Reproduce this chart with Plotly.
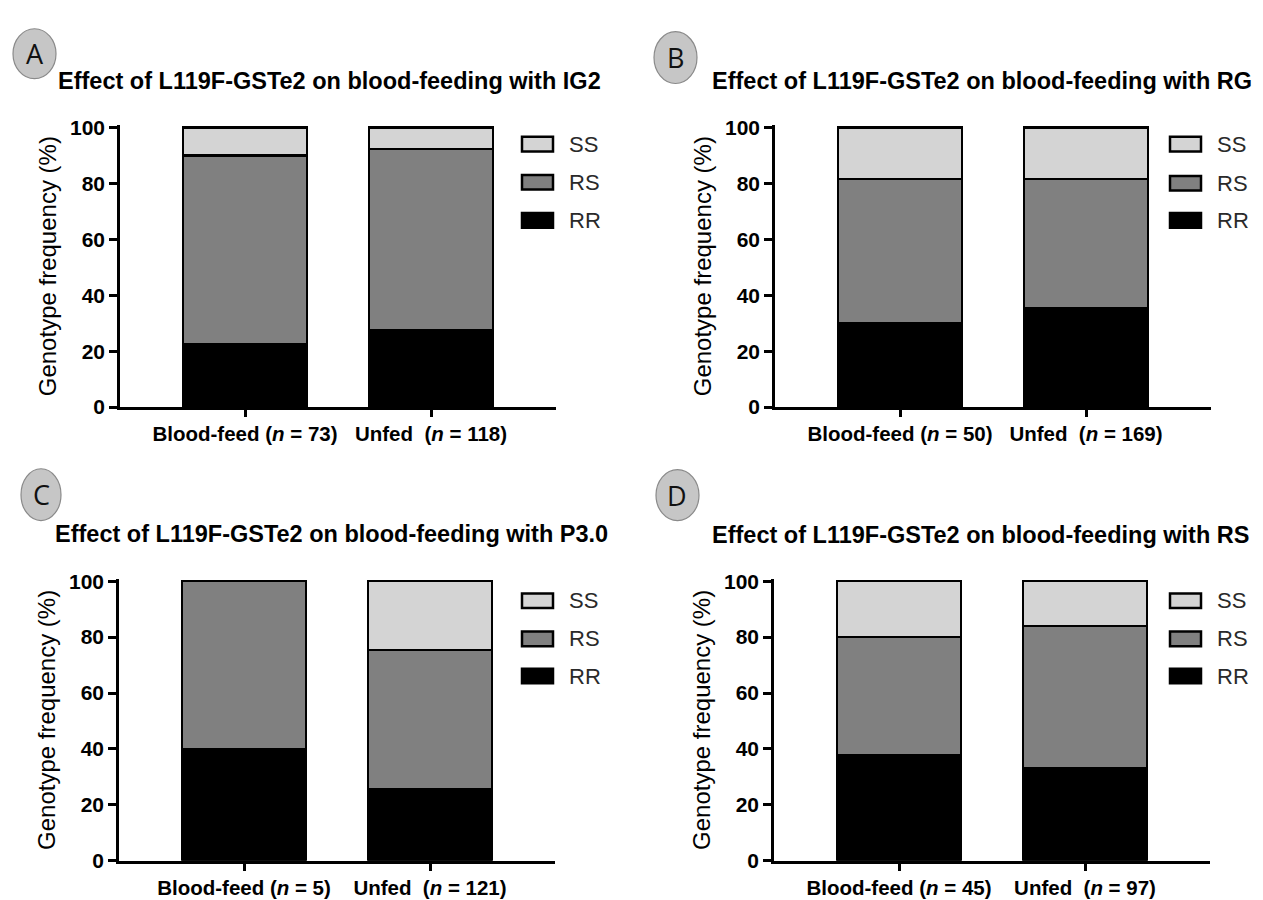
import plotly.graph_objects as go

# ---------------- data ----------------
genotypes = ["SS", "RS", "RR"]          # legend order (top to bottom)
geno_colors = {"SS": "#d4d4d4", "RS": "#808080", "RR": "#000000"}

panel_letters = ["A", "B", "C", "D"]
panel_titles = [
    "Effect of L119F-GSTe2 on blood-feeding with IG2",
    "Effect of L119F-GSTe2 on blood-feeding with RG",
    "Effect of L119F-GSTe2 on blood-feeding with P3.0",
    "Effect of L119F-GSTe2 on blood-feeding with RS",
]
n_bloodfed = [73, 50, 5, 45]
n_unfed = [118, 169, 121, 97]

# genotype frequency (%) per panel: [Blood-feed, Unfed]
A_RR = [22.4, 27.6]; A_RS = [67.6, 64.7]; A_SS = [10.0, 7.7]
B_RR = [30.0, 35.5]; B_RS = [51.7, 46.2]; B_SS = [18.3, 18.3]
C_RR = [40.0, 25.8]; C_RS = [60.0, 49.7]; C_SS = [0.0, 24.5]
D_RR = [37.8, 33.0]; D_RS = [42.2, 51.0]; D_SS = [20.0, 16.0]

panel_values = [
    {"RR": A_RR, "RS": A_RS, "SS": A_SS},
    {"RR": B_RR, "RS": B_RS, "SS": B_SS},
    {"RR": C_RR, "RS": C_RS, "SS": C_SS},
    {"RR": D_RR, "RS": D_RS, "SS": D_SS},
]
y_ticks = [0, 20, 40, 60, 80, 100]

# ---------------- layout geometry (pixels) ----------------
W, H = 1263, 900
def px(x): return x / W
def py(y): return 1 - y / H

# per panel: axis left/right, y(100), y(0), title pos, badge box, legend pos
geo = [
    dict(x0=112, x1=548, y100=113, y0=399, tx=48, ty=65, cx=(5, 48), cy=(12, 63), lx=514, ly=(130, 169, 208)),
    dict(x0=767, x1=1203, y100=113, y0=399, tx=702, ty=65, cx=(646, 689), cy=(15, 68), lx=1162, ly=(130, 170, 208)),
    dict(x0=111, x1=547, y100=577, y0=863, tx=45, ty=529, cx=(13, 53), cy=(462, 515), lx=514, ly=(597, 636, 674)),
    dict(x0=766, x1=1202, y100=577, y0=863, tx=702, ty=530, cx=(648, 691), cy=(463, 515), lx=1162, ly=(597, 636, 674)),
]
YMAX = 100.8
font_family = "Liberation Sans, Arial, sans-serif"

fig = go.Figure()
layout = dict(
    width=W, height=H, margin=dict(l=0, r=0, t=0, b=0),
    paper_bgcolor="white", plot_bgcolor="white",
    barmode="stack", showlegend=False,
    font=dict(family=font_family, color="#000000"),
)
shapes, annotations = [], []

for i in range(4):
    g = geo[i]
    sfx = "" if i == 0 else str(i + 1)
    cats = [f"Blood-feed (<i>n</i> = {n_bloodfed[i]})",
            f"Unfed\u00a0\u00a0(<i>n</i> = {n_unfed[i]})"]
    for gt in ["RR", "RS", "SS"]:
        fig.add_trace(go.Bar(
            x=cats, y=panel_values[i][gt], name=gt,
            marker=dict(color=geno_colors[gt], line=dict(color="#000000", width=2.2)),
            width=0.667, xaxis="x" + sfx, yaxis="y" + sfx,
            hovertemplate=gt + ": %{y:.1f}%<extra></extra>",
        ))
    ytop = g["y0"] - YMAX * (g["y0"] - g["y100"]) / 100
    layout["xaxis" + sfx] = dict(
        domain=[px(g["x0"]), px(g["x1"])], anchor="y" + sfx,
        type="category", range=[-0.672, 1.672],
        showline=True, linecolor="#000000", linewidth=2.5,
        ticks="outside", ticklen=7, tickwidth=2.5, tickcolor="#000000",
        tickfont=dict(size=20.5, weight="bold", family=font_family, color="#000000"),
        showgrid=False, zeroline=False, fixedrange=True,
    )
    layout["yaxis" + sfx] = dict(
        domain=[py(g["y0"]), py(ytop)], anchor="x" + sfx,
        range=[0, YMAX], tickvals=y_ticks,
        showline=True, linecolor="#000000", linewidth=2.5,
        ticks="outside", ticklen=8, tickwidth=2.5, tickcolor="#000000",
        tickfont=dict(size=21, weight="bold", family=font_family, color="#000000"),
        title=dict(text="Genotype frequency (%)", standoff=7,
                   font=dict(size=24, family=font_family, color="#000000")),
        showgrid=False, zeroline=False, fixedrange=True,
    )
    # panel title
    annotations.append(dict(
        text=panel_titles[i], xref="paper", yref="paper",
        x=px(g["tx"]), y=py(g["ty"]), xanchor="left", yanchor="middle",
        showarrow=False, font=dict(size=23.5, weight="bold", family=font_family, color="#000000"),
    ))
    # panel letter badge
    shapes.append(dict(
        type="circle", xref="paper", yref="paper",
        x0=px(g["cx"][0]), x1=px(g["cx"][1]), y0=py(g["cy"][1]), y1=py(g["cy"][0]),
        fillcolor="#c6c6c6", line=dict(color="#8a8a8a", width=1.2),
    ))
    annotations.append(dict(
        text=panel_letters[i], xref="paper", yref="paper",
        x=px((g["cx"][0] + g["cx"][1]) / 2), y=py((g["cy"][0] + g["cy"][1]) / 2),
        xanchor="center", yanchor="middle", showarrow=False,
        font=dict(size=27, family="Open Sans, Liberation Sans, sans-serif", color="#111111"),
    ))
    # legend (swatches + labels)
    for gt, ly in zip(genotypes, g["ly"]):
        shapes.append(dict(
            type="rect", xref="paper", yref="paper",
            x0=px(g["lx"]), x1=px(g["lx"] + 31), y0=py(ly + 7.5), y1=py(ly - 7.5),
            fillcolor=geno_colors[gt], line=dict(color="#000000", width=2.5),
        ))
        annotations.append(dict(
            text=gt, xref="paper", yref="paper",
            x=px(g["lx"] + 45), y=py(ly), xanchor="left", yanchor="middle",
            showarrow=False, font=dict(size=22, family=font_family, color="#2a2a2a"),
        ))

layout["shapes"] = shapes
layout["annotations"] = annotations
fig.update_layout(**layout)
fig.write_html("out.html")
